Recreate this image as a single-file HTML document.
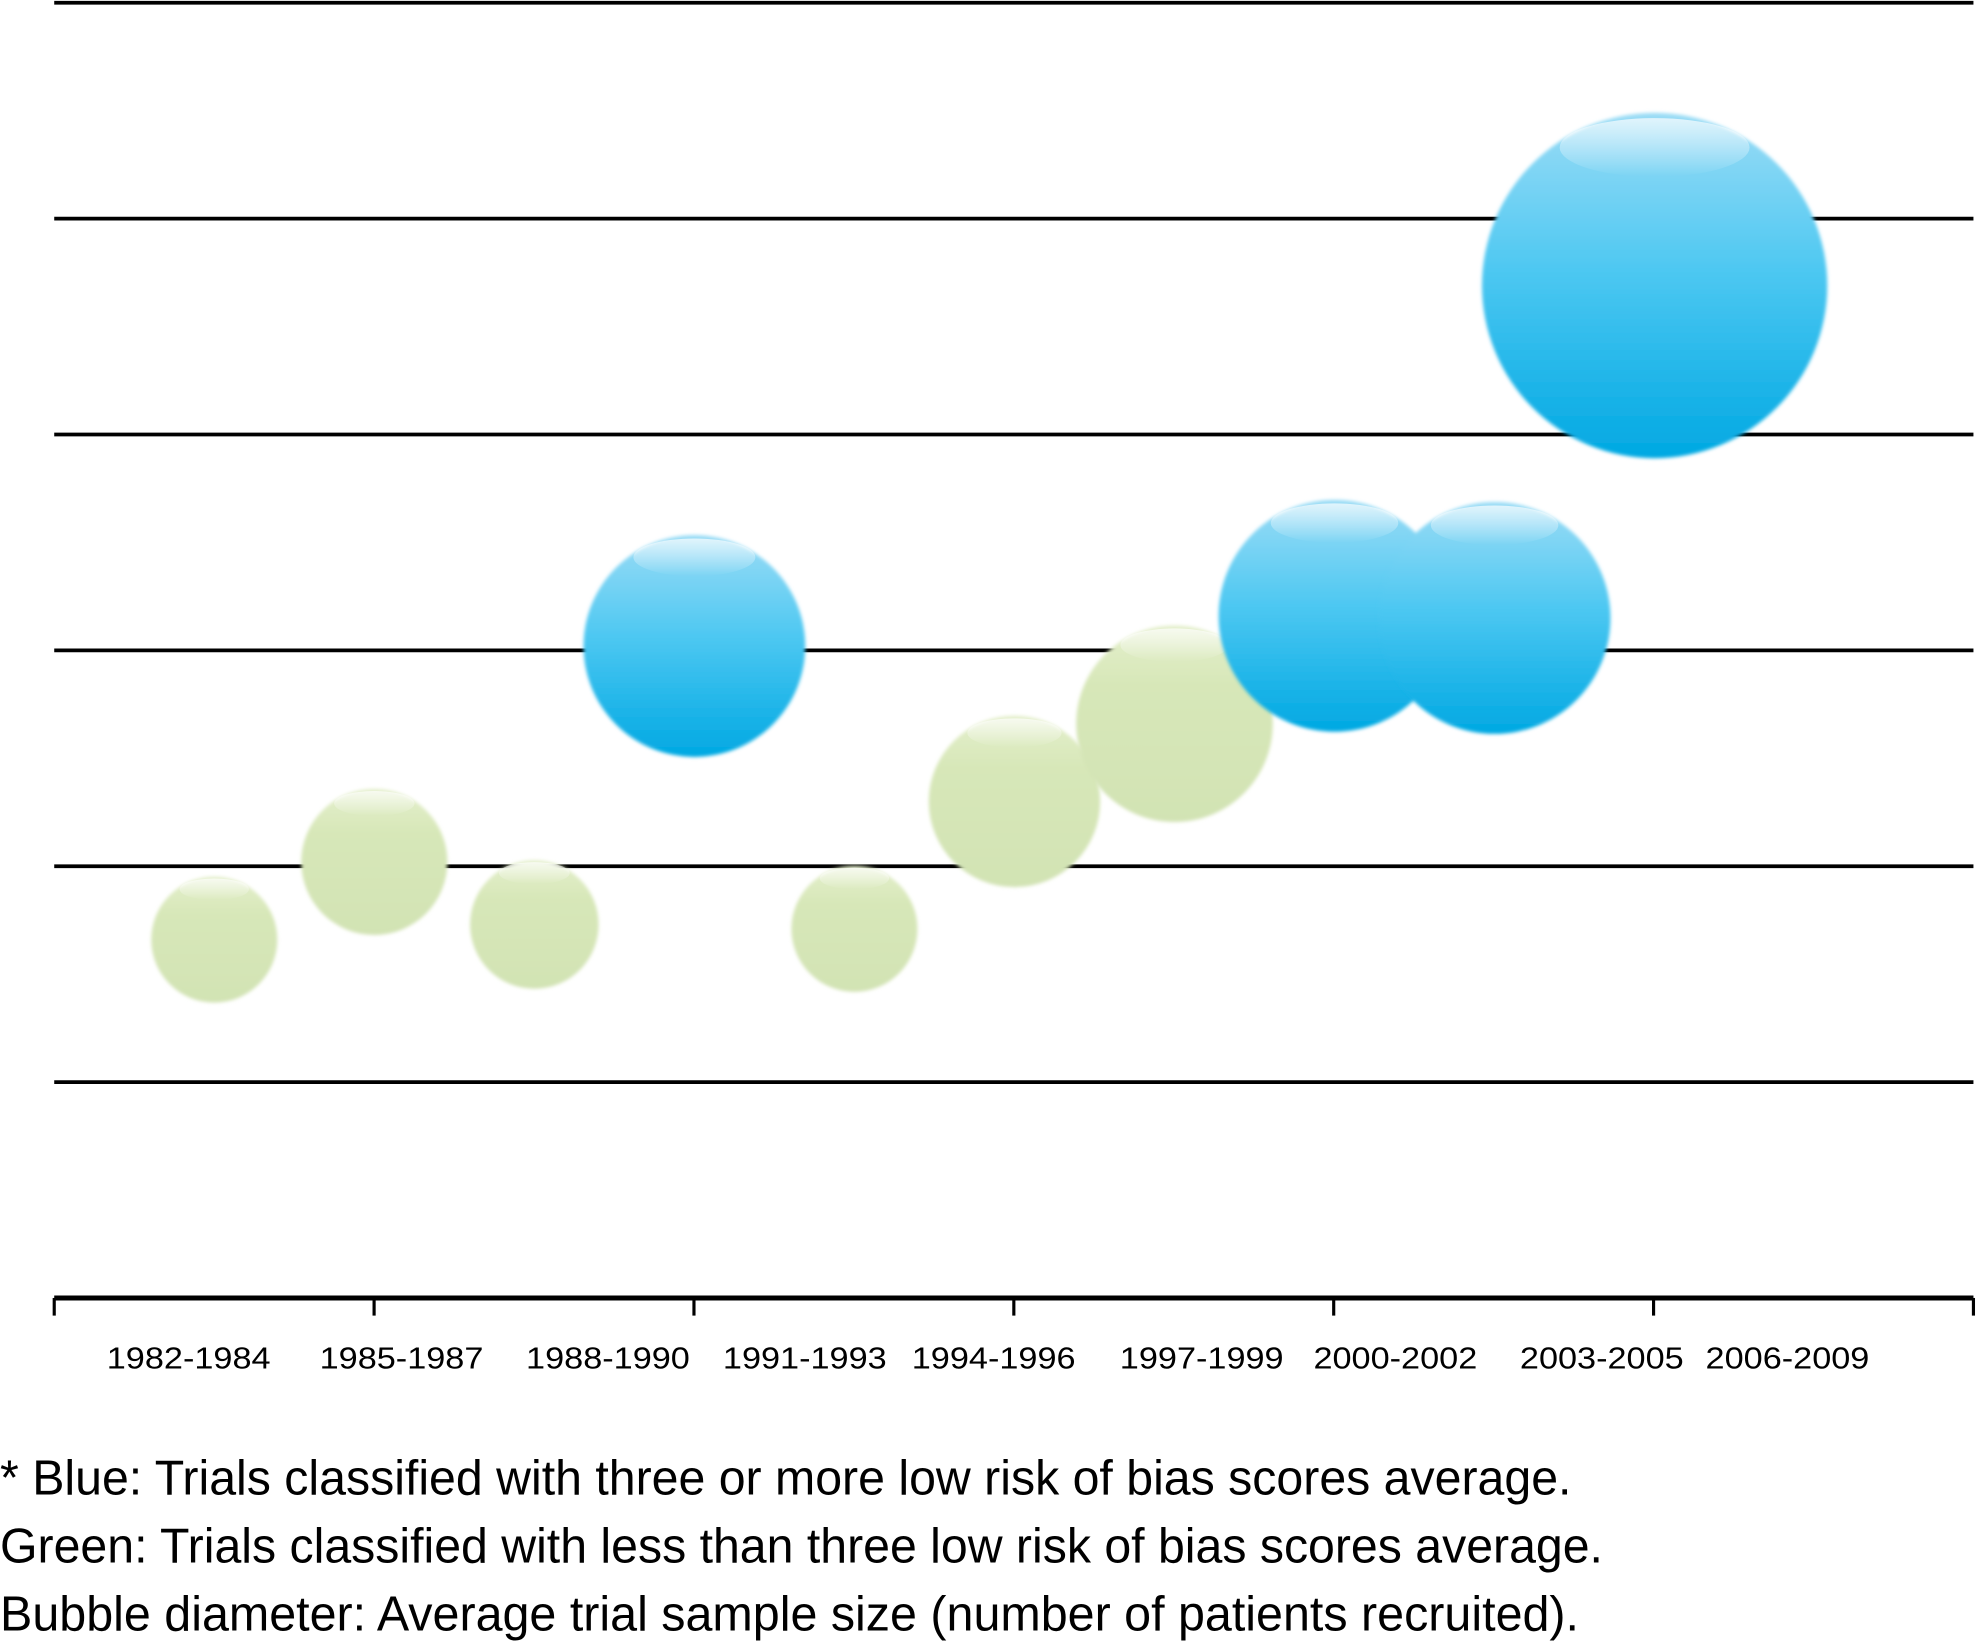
<!DOCTYPE html>
<html><head><meta charset="utf-8"><style>
html,body{margin:0;padding:0;background:#fff;}
svg{display:block;font-family:"Liberation Sans",Arial,sans-serif;}
</style></head><body>
<svg id="chart" width="1976" height="1644" viewBox="0 0 1568 1304.6" xmlns="http://www.w3.org/2000/svg">
<defs>
<linearGradient id="gBlue" x1="0" y1="0" x2="0" y2="1">
<stop offset="0" stop-color="#9bdcf5"/><stop offset="0.45" stop-color="#4ec8f2"/><stop offset="1" stop-color="#00a8e2"/></linearGradient>
<linearGradient id="gGreen" x1="0" y1="0" x2="0" y2="1">
<stop offset="0" stop-color="#e4efcc"/><stop offset="0.3" stop-color="#d7e7b8"/><stop offset="1" stop-color="#d2e3b4"/></linearGradient>
<linearGradient id="shine" x1="0" y1="0" x2="0" y2="1">
<stop offset="0" stop-color="#fff" stop-opacity="0.7"/><stop offset="1" stop-color="#fff" stop-opacity="0"/></linearGradient>
<filter id="soft" x="-20%" y="-20%" width="140%" height="140%"><feGaussianBlur stdDeviation="1.5"/></filter>
</defs>
<g id="grid"></g>
<g id="bubbles"></g>
<g id="axis"></g>
<g id="notes" font-size="39" fill="#000">
<text x="0" y="1186" textLength="1247" lengthAdjust="spacingAndGlyphs">* Blue: Trials classified with three or more low risk of bias scores average.</text>
<text x="0" y="1240" textLength="1272" lengthAdjust="spacingAndGlyphs">Green: Trials classified with less than three low risk of bias scores average.</text>
<text x="0" y="1294" textLength="1253" lengthAdjust="spacingAndGlyphs">Bubble diameter: Average trial sample size (number of patients recruited).</text>
</g>
</svg>
<script>
const tickLabels = ["1982-1984","1985-1987","1988-1990","1991-1993","1994-1996","1997-1999","2000-2002","2003-2005","2006-2009"];
const labelPos = [0.84,2.17,3.46,4.69,5.87,7.17,8.38,9.67,10.83];
const bubbleX = [1,2,3,4,5,6,7,8,9,10];
const bubbleY = [1.66,2.02,1.73,3.02,1.71,2.30,2.66,3.16,3.15,4.69];
const bubbleSize = [100,116,102,176,100,136,156,184,184,274];
const bubbleGroup = ["green","green","green","blue","green","green","green","blue","blue","blue"];
const gridValues = [1,2,3,4,5,6];

const NS="http://www.w3.org/2000/svg";
const X0=43, X1=1566, Y0=1030, unitY=171.3, unitX=127;
const xs = v => X0 + v*unitX;
const ys = v => Y0 - v*unitY;
function mk(tag, attrs, parent){const e=document.createElementNS(NS,tag);for(const k in attrs)e.setAttribute(k,attrs[k]);parent.appendChild(e);return e;}

const grid=document.getElementById('grid');
gridValues.forEach(v=>{
  const l=mk('line',{x1:X0,x2:X1,y1:ys(v),y2:ys(v),stroke:'#000','stroke-width':3},grid);
  
  
});

const bg=document.getElementById('bubbles');
bubbleX.forEach((v,i)=>{
  const g=mk('g',{},bg);
  
  
  const cx=xs(v), cy=ys(bubbleY[i]), r=bubbleSize[i]/2;
  const isBlue=bubbleGroup[i]==='blue';
  mk('circle',{cx:cx,cy:cy,r:r,fill:isBlue?'url(#gBlue)':'url(#gGreen)',filter:'url(#soft)'},g);
  mk('ellipse',{cx:cx,cy:cy-r*0.8,rx:r*0.55,ry:r*0.17,fill:'url(#shine)'},g);
});

const ax=document.getElementById('axis');
const base=mk('line',{x1:X0,x2:X1,y1:Y0,y2:Y0,stroke:'#000','stroke-width':4},ax);


for(let k=0;k<=6;k++){
  const tx=X0+k*(X1-X0)/6;
  const t=mk('line',{x1:tx,x2:tx,y1:Y0,y2:Y0+14,stroke:'#000','stroke-width':2.5},ax);
  
  
}
tickLabels.forEach((s,i)=>{
  const t=mk('text',{x:xs(labelPos[i])-65,y:1086,'font-size':24,textLength:130,lengthAdjust:'spacingAndGlyphs'},ax);
  t.textContent=s;
  
  
});
</script>
</body></html>
